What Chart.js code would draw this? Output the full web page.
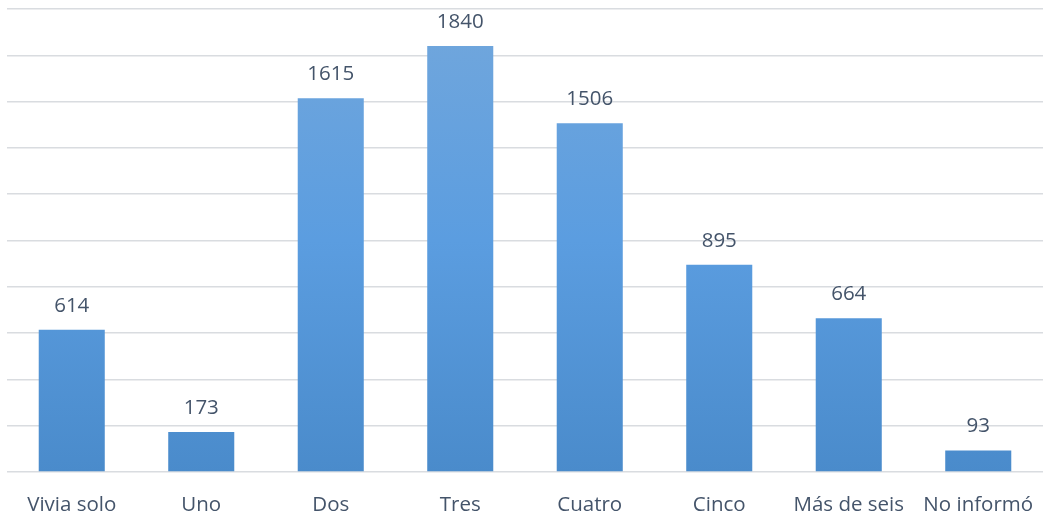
<!DOCTYPE html>
<html><head><meta charset="utf-8">
<script src="https://cdn.jsdelivr.net/npm/chart.js@4"></script>
<style>html,body{margin:0;padding:0;background:#fff;}#wrap{width:1043px;height:521px;}</style>
</head><body><div id="wrap"><canvas id="c"></canvas></div>
<script>
const categories = ["Vivia solo","Uno","Dos","Tres","Cuatro","Cinco","Más de seis","No informó"];
const values = [614,173,1615,1840,1506,895,664,93];
const yMax = 2000;
const yStep = 200;

const labelPlugin = {
  id: 'valueLabels',
  afterDatasetsDraw(chart) {
    const ctx = chart.ctx;
    const meta = chart.getDatasetMeta(0);
    ctx.save();
    ctx.font = '20.5px "Open Sans", sans-serif';
    ctx.fillStyle = '#44546a';
    ctx.textAlign = 'center';
    ctx.textBaseline = 'alphabetic';
    meta.data.forEach((bar, i) => {
      ctx.fillText(String(values[i]), bar.x, bar.y - 18);
    });
    ctx.restore();
  }
};

new Chart(document.getElementById('c'), {
  type: 'bar',
  data: {
    labels: categories,
    datasets: [{
      data: values,
      backgroundColor(ctx) {
        const ch = ctx.chart;
        const a = ch.chartArea;
        if (!a) return '#5b9bd5';
        const el = ctx.element;
        const top = el && el.y !== undefined ? el.y : a.top;
        const bottom = a.bottom;
        const g = ch.ctx.createLinearGradient(0, top, 0, bottom);
        g.addColorStop(0, '#72a7dc');
        g.addColorStop(0.5, '#5b9de0');
        g.addColorStop(1, '#4a8bcb');
        return g;
      },
      borderWidth: 0,
      barPercentage: 0.51,
      categoryPercentage: 1.0
    }]
  },
  options: {
    responsive: true,
    maintainAspectRatio: false,
    animation: false,
    layout: { padding: { top: 9, left: 7, right: 0, bottom: 0 } },
    plugins: { legend: { display: false }, tooltip: { enabled: false } },
    scales: {
      x: {
        grid: { display: false, drawTicks: false },
        border: { display: false },
        ticks: { color: '#44546a', font: { size: 20.5, family: '"Open Sans", sans-serif', lineHeight: 1.2 }, padding: 21, maxRotation: 0, autoSkip: false },
        afterFit(scale) {
          scale.height = 49;
          scale.paddingLeft = 0;
          scale.paddingRight = 0;
        }
      },
      y: {
        min: 0, max: yMax,
        ticks: { display: false, stepSize: yStep },
        grid: { color: '#d9dce0', lineWidth: 1.5, drawTicks: false },
        border: { display: false },
        afterFit(scale) { scale.width = 0; }
      }
    }
  },
  plugins: [labelPlugin]
});
</script></body></html>
